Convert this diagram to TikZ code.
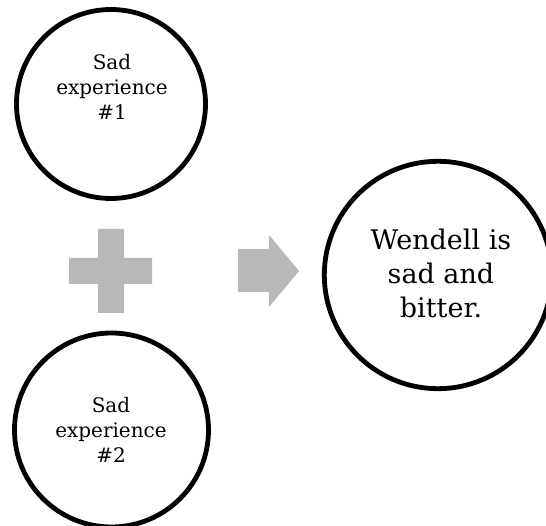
\documentclass[tikz,border=0pt]{standalone}
\usepackage{fontspec}
\setmainfont{DejaVu Serif}
\begin{document}
\begin{tikzpicture}[x=1pt,y=1pt,
  small/.style={align=center,font=\fontsize{20}{25}\selectfont,anchor=base},
  big/.style={align=center,font=\fontsize{27}{34}\selectfont,anchor=base},
  shapefill/.style={fill=black!28,draw=none}]
\useasboundingbox (0,0) rectangle (546,526);
\begin{scope}
\clip (0,0) rectangle (546,526);
\draw[line width=4.8pt] (111,422) circle (94.5);
\draw[line width=4.8pt] (111.5,96) circle (97);
\draw[line width=4.8pt] (438,251) circle (113.7);
\end{scope}
\node[small] (t1) at (112,406) {Sad\\experience\\\#1};
\node[small] (t2) at (111,63) {Sad\\experience\\\#2};
\node[big] (t3) at (441,208) {Wendell is\\sad and\\bitter.};
\fill[shapefill] (98,297) -- (124,297) -- (124,268) -- (152,268) -- (152,242) -- (124,242)
  -- (124,213) -- (98,213) -- (98,242) -- (69,242) -- (69,268) -- (98,268) -- cycle;
\fill[shapefill] (238,234) -- (269,234) -- (269,219) -- (299,255) -- (269,291) -- (269,277) -- (238,277) -- cycle;
\end{tikzpicture}
\end{document}
